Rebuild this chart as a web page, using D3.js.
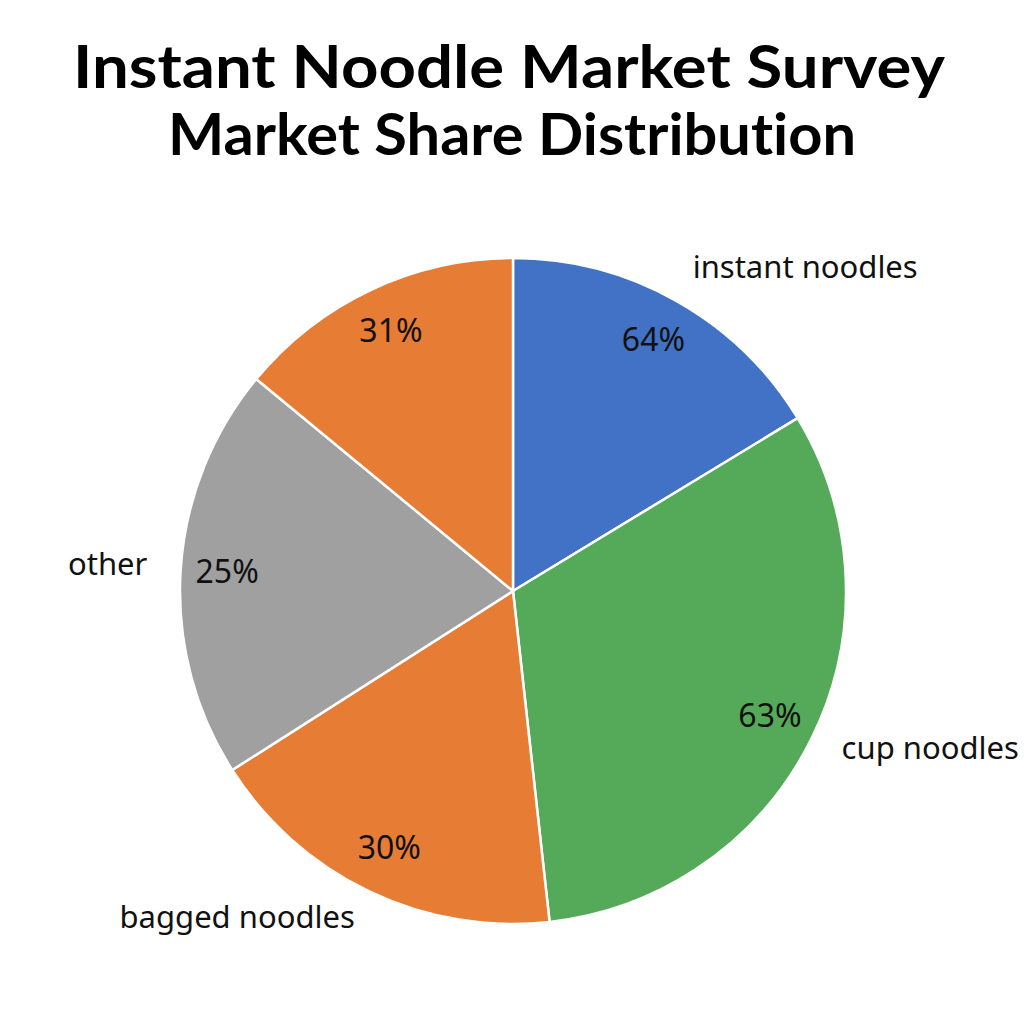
<!DOCTYPE html>
<html>
<head>
<meta charset="utf-8">
<script src="https://cdn.jsdelivr.net/npm/d3@7"></script>
<style>
  body { margin: 0; background: #fff; }
  svg { display: block; }
  text { font-variant-ligatures: none; }
</style>
</head>
<body>
<div id="chart"></div>
<script>
// category names, the printed percentages, and the slice shares as drawn
var categories = ["instant noodles", "cup noodles", "bagged noodles", "other", ""];
var shownPct = [64, 63, 30, 25, 31];
var sliceShare = [16.3, 31.9, 17.7, 20.0, 14.0];
var titleLines = ["Instant Noodle Market Survey", "Market Share Distribution"];

var colors = ["#4172c5", "#55aa59", "#e77c35", "#a0a0a0", "#e77c35"];

var width = 1024, height = 1024;
var cx = 513, cy = 591, radius = 333;

var svg = d3.select("#chart").append("svg")
    .attr("width", width)
    .attr("height", height);

// titles
svg.append("text")
    .attr("x", 509).attr("y", 88)
    .attr("text-anchor", "middle")
    .attr("font-family", "Lato, 'Open Sans', sans-serif")
    .attr("font-weight", "bold")
    .attr("font-size", 60)
    .attr("textLength", 872)
    .attr("lengthAdjust", "spacingAndGlyphs")
    .text(titleLines[0]);

svg.append("text")
    .attr("x", 512).attr("y", 155)
    .attr("text-anchor", "middle")
    .attr("font-family", "Lato, 'Open Sans', sans-serif")
    .attr("font-weight", "bold")
    .attr("font-size", 58)
    .attr("textLength", 688)
    .attr("lengthAdjust", "spacingAndGlyphs")
    .text(titleLines[1]);

var rows = categories.map(function(c, i) {
    return { name: c, pct: shownPct[i], share: sliceShare[i], color: colors[i] };
});

var pie = d3.pie()
    .sort(null)
    .value(function(d) { return d.share; });

var arc = d3.arc().innerRadius(0).outerRadius(radius);
var pctArc = d3.arc().innerRadius(radius * 0.86).outerRadius(radius * 0.86);
var nameArc = d3.arc().innerRadius(radius * 1.1).outerRadius(radius * 1.1);

var g = svg.append("g")
    .attr("transform", "translate(" + cx + "," + cy + ")");

var slices = pie(rows);

g.selectAll(".slice")
    .data(slices)
    .enter().append("path")
    .attr("class", "slice")
    .attr("d", arc)
    .attr("fill", function(d) { return d.data.color; })
    .attr("stroke", "#fff")
    .attr("stroke-width", 2.5)
    .attr("stroke-linejoin", "round");

g.selectAll(".pct")
    .data(slices)
    .enter().append("text")
    .attr("class", "pct")
    .attr("transform", function(d) { return "translate(" + pctArc.centroid(d) + ")"; })
    .attr("text-anchor", "middle")
    .attr("dy", "0.3em")
    .attr("font-family", "'Noto Sans', 'Open Sans', sans-serif")
    .attr("font-size", 32)
    .attr("fill", "#111")
    .text(function(d) { return d.data.pct + "%"; });

g.selectAll(".name")
    .data(slices.filter(function(d) { return d.data.name !== ""; }))
    .enter().append("text")
    .attr("class", "name")
    .attr("transform", function(d) { return "translate(" + nameArc.centroid(d) + ")"; })
    .attr("text-anchor", function(d) { return nameArc.centroid(d)[0] < 0 ? "end" : "start"; })
    .attr("dy", "0.2em")
    .attr("font-family", "'Noto Sans', 'Open Sans', sans-serif")
    .attr("font-size", 31)
    .attr("fill", "#111")
    .text(function(d) { return d.data.name; });
</script>
</body>
</html>
